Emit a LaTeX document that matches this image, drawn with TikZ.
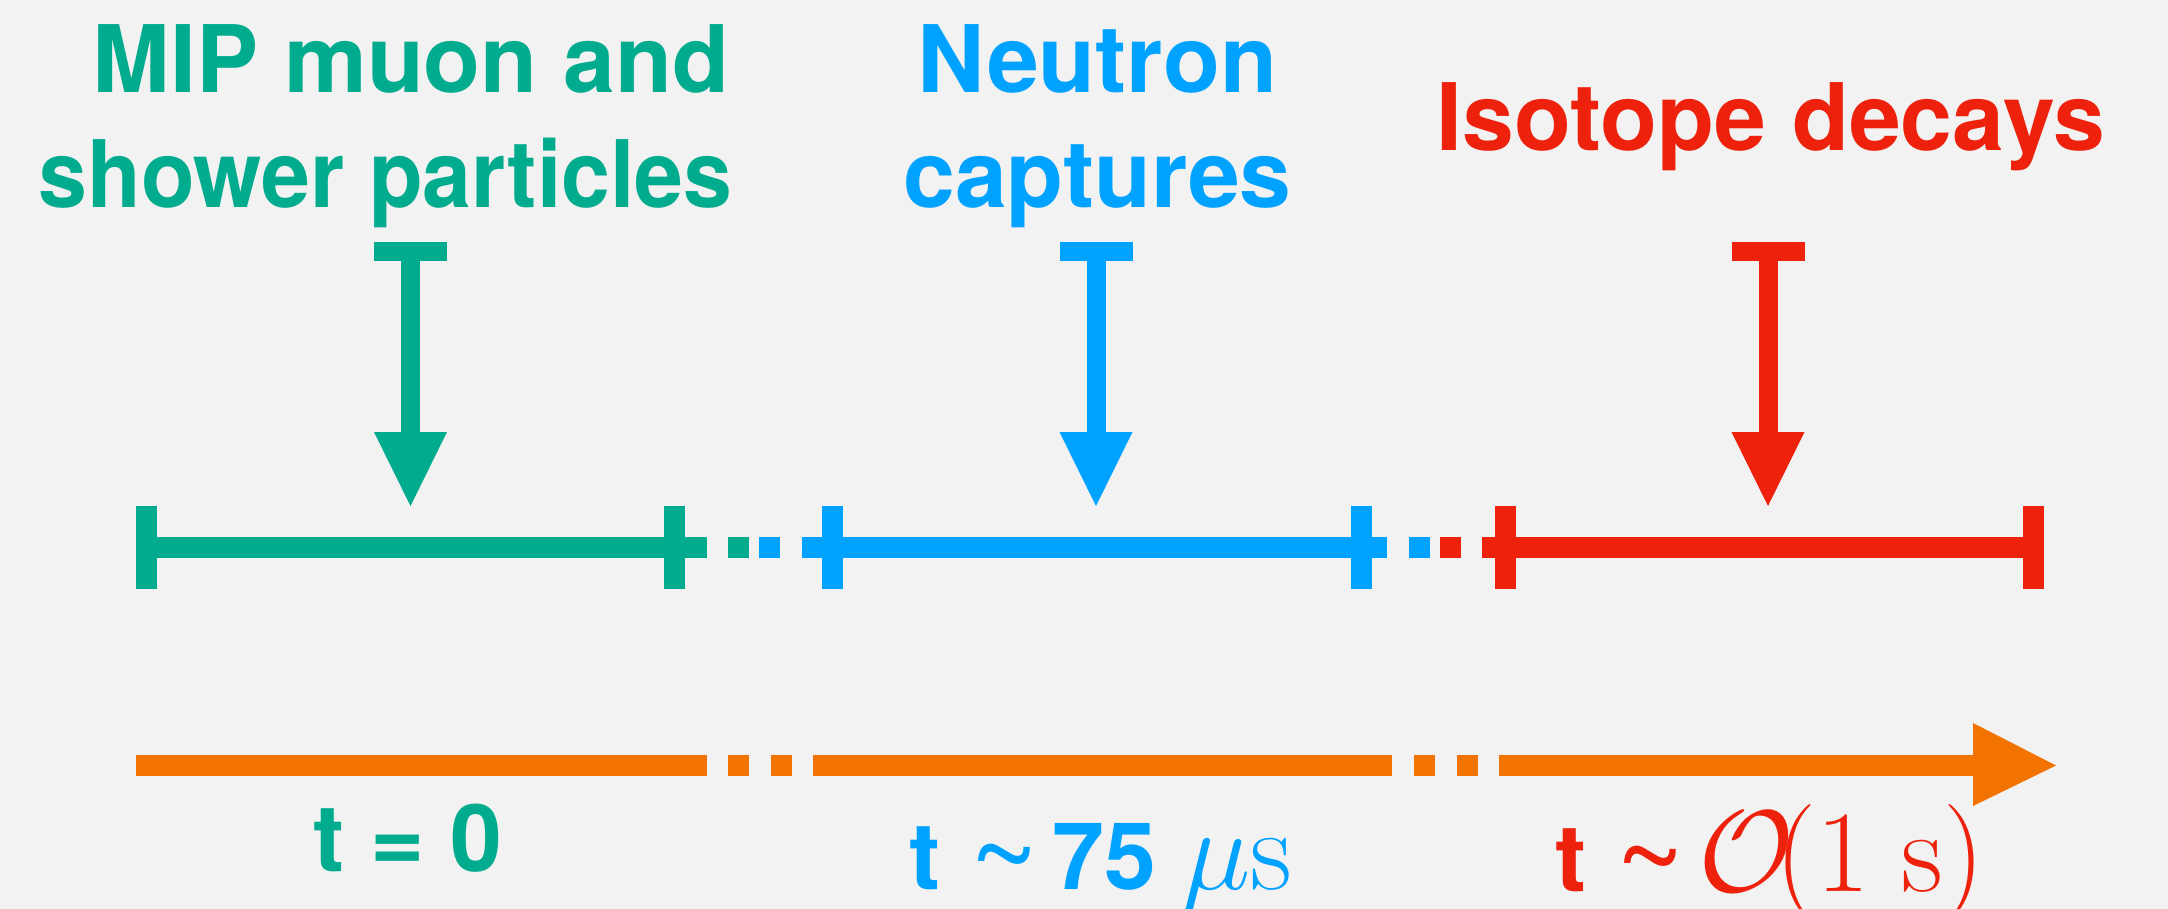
\RequirePackage{fix-cm}
\documentclass[tikz,border=0pt]{standalone}
\usepackage{graphicx}
\usepackage{fontspec}
\newfontfamily\hv{TeX Gyre Heros}
\definecolor{bg}{RGB}{242,242,242}
\definecolor{cgreen}{RGB}{0,171,142}
\definecolor{cblue}{RGB}{0,162,255}
\definecolor{cred}{RGB}{238,34,12}
\definecolor{corange}{RGB}{242,115,0}
\newcommand{\bigtilde}{\hspace{0.16cm}\makebox[0.96cm][c]{\raisebox{-2pt}{\fontsize{34}{34}\selectfont\mdseries\textasciitilde}}}
\tikzset{
  bar/.style={line width=0.21cm},
  lbl/.style={inner sep=0pt, font=\hv\bfseries\fontsize{26.5}{30}\selectfont, anchor=base},
  darrow/.pic={
    \fill (-36.5,0) rectangle (36.5,19);
    \fill (-9.5,18) rectangle (9.5,191);
    \fill (-36.5,190) -- (36.5,190) -- (0,264) -- cycle;
  },
  sq/.pic={\fill (-10.5,-10.5) rectangle (10.5,10.5);}
}
\begin{document}
\begin{tikzpicture}[x=0.01cm,y=-0.01cm]
\fill[bg] (0,0) rectangle (2168,909);
\useasboundingbox (0,0) rectangle (2168,909);

% top labels
\node[lbl, text=cgreen] (t1) at (411,92) {MIP muon and};
\node[lbl, text=cgreen] (t2) at (385.5,207) {\scalebox{0.943}[1]{shower particles}};
\node[lbl, text=cblue] (t3) at (1097.5,92) {Neutron};
\node[lbl, text=cblue] (t4) at (1097.5,207) {captures};
\node[lbl, text=cred] (t5) at (1771,150) {Isotope decays};

% down arrows
\pic[fill=cgreen] at (410.5,242) {darrow};
\pic[fill=cblue] at (1096,242) {darrow};
\pic[fill=cred] at (1768,242) {darrow};

% timeline segments
\coordinate (g0) at (136,547.5);
\coordinate (g1) at (707,547.5);
\coordinate (b0) at (802,547.5);
\coordinate (b1) at (1387,547.5);
\coordinate (r0) at (1482,547.5);
\coordinate (r1) at (2044,547.5);
\draw[bar, cgreen] (g0) -- (g1);
\draw[bar, cgreen] (146.5,506) -- (146.5,589);
\draw[bar, cgreen] (674.5,506) -- (674.5,589);
\pic[fill=cgreen] at (738.5,547.5) {sq};
\pic[fill=cblue] at (769.5,547.5) {sq};
\draw[bar, cblue] (b0) -- (b1);
\draw[bar, cblue] (832.5,506) -- (832.5,589);
\draw[bar, cblue] (1361.5,506) -- (1361.5,589);
\pic[fill=cblue] at (1419.5,547.5) {sq};
\pic[fill=cred] at (1450,547.5) {sq};
\draw[bar, cred] (r0) -- (r1);
\draw[bar, cred] (1505,506) -- (1505,589);
\draw[bar, cred] (2033,506) -- (2033,589);

% time axis
\coordinate (o0) at (136,765.5);
\coordinate (o1) at (707,765.5);
\coordinate (o2) at (813,765.5);
\coordinate (o3) at (1392,765.5);
\coordinate (o4) at (1499,765.5);
\coordinate (o5) at (1974,765.5);
\draw[bar, corange] (o0) -- (o1);
\pic[fill=corange] at (738.5,765.5) {sq};
\pic[fill=corange] at (781.5,765.5) {sq};
\draw[bar, corange] (o2) -- (o3);
\pic[fill=corange] at (1424.5,765.5) {sq};
\pic[fill=corange] at (1467.5,765.5) {sq};
\draw[bar, corange] (o4) -- (o5);
\fill[corange] (1973,723) -- (2056,765.5) -- (1973,806) -- cycle;

% time labels
\node[lbl, anchor=base west, text=cgreen] (l1) at (313,871) {t = 0};
\node[lbl, anchor=base west, text=cblue] (l2) at (909,889) {t\bigtilde 75 {\fontsize{33}{40}\selectfont$\mu\mathrm{s}$}};
\node[lbl, anchor=base west, text=cred] (l3) at (1555,891) {t\bigtilde{\fontsize{33}{40}\selectfont$\mathcal{O}\mkern-3mu(1\;\mathrm{s})$}};
\end{tikzpicture}
\end{document}
